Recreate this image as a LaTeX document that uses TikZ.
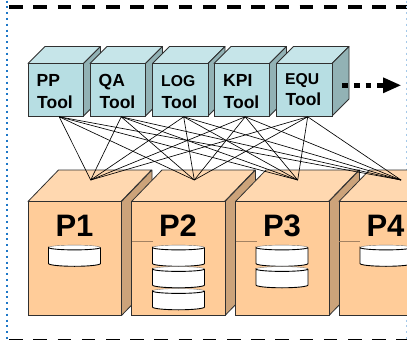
\documentclass[tikz,border=0pt]{standalone}
\usepackage{fontspec}
\setmainfont{Liberation Sans}
\definecolor{tf}{HTML}{B7DEE3}
\definecolor{tt}{HTML}{C6E5E9}
\definecolor{ts}{HTML}{92B2B5}
\definecolor{pf}{HTML}{FFCC99}
\definecolor{pt}{HTML}{FFD8B0}
\definecolor{ps}{HTML}{CCA37A}
\definecolor{edge}{HTML}{303030}
\definecolor{dotb}{HTML}{1F78C8}
\tikzset{
  facet/.style={draw=edge,line width=0.8pt,line join=round},
  wire/.style={draw=black,line width=0.65pt},
  tooltext/.style={font=\bfseries\fontsize{17.5}{18}\selectfont,anchor=base west,inner sep=0pt},
  smalltext/.style={font=\bfseries\fontsize{15.7}{18}\selectfont,anchor=base west,inner sep=0pt},
  ptext/.style={font=\bfseries\fontsize{31}{32}\selectfont,anchor=base,inner sep=0pt},
  disk/.style={draw=black,line width=0.9pt},
  diskrim/.style={draw=black!55,line width=0.4pt},
  hair/.style={draw=ps!80!black,line width=0.5pt}
}
\newcommand{\toolcube}[2]{% x, name
  \fill[tt,facet] (#1,63.5) -- ++(17,-17) -- ++(55.5,0) -- ++(-17,17) -- cycle;
  \fill[ts,facet] (#1+55.5,63.5) -- ++(17,-17) -- ++(0,52.5) -- ++(-17,17) -- cycle;
  \node[draw=edge,fill=tf,line width=0.8pt,minimum width=55.5pt,minimum height=52.5pt,anchor=north west,inner sep=0pt,outer sep=0pt] (#2) at (#1,63.5) {};
  \coordinate (#2w) at (#1+31.2,116.8);
}
\newcommand{\pcube}[3]{% x, name, label
  \fill[pt,facet] (#1,201.5) -- ++(30.5,-31.5) -- ++(93,0) -- ++(-30.5,31.5) -- cycle;
  \fill[ps,facet] (#1+93.5,201.5) -- ++(30.5,-31.5) -- ++(0,114) -- ++(-30.5,31.5) -- cycle;
  \node[draw=edge,fill=pf,line width=0.8pt,minimum width=93.5pt,minimum height=114pt,anchor=north west,inner sep=0pt,outer sep=0pt] (#2) at (#1,201.5) {};
  \node[ptext] (#2t) at (#1+46.5,236.5) {#3};
}
\newcommand{\dbdisk}[2]{% x, top y
  \fill[white] (#1,#2) arc[start angle=180,end angle=0,x radius=26pt,y radius=2.4pt] -- (#1+52,#2+16) arc[start angle=0,end angle=-180,x radius=26pt,y radius=2.8pt] -- cycle;
  \draw[diskrim] (#1,#2) arc[start angle=180,end angle=0,x radius=26pt,y radius=2.4pt];
  \draw[disk] (#1+52,#2) arc[start angle=0,end angle=-180,x radius=26pt,y radius=2.4pt] -- (#1,#2+16) arc[start angle=180,end angle=360,x radius=26pt,y radius=2.8pt] -- (#1+52,#2);
}
\begin{document}
\begin{tikzpicture}[x=1pt,y=-1pt]
\useasboundingbox (0,0) rectangle (407,340);
\clip (0,0) rectangle (407,340);
\fill[white] (0,0) rectangle (407,340);
% frame
\draw[black,line width=3.5pt,dash pattern=on 13.6pt off 10.6pt] (9.2,6.9) -- (407,6.9);
\draw[black,line width=3.5pt,dash pattern=on 13.6pt off 10.6pt] (9.2,340.8) -- (407,340.8);
\draw[dotb,line width=2.2pt,dash pattern=on 2pt off 3.8pt] (6.6,0.5) -- (6.6,340);
\draw[dotb!40,line width=1.2pt,dash pattern=on 2pt off 3.8pt] (406.5,0.5) -- (406.5,340);
% processors
\pcube{28}{p1}{P1}
\pcube{131.5}{p2}{P2}
\pcube{235.5}{p3}{P3}
\pcube{339}{p4}{P4}
\draw[hair] (131.5,241) -- (152.5,241);
\draw[hair] (235.5,241) -- (256.5,241);
\draw[hair] (339,241) -- (360,241);
\dbdisk{48.5}{247.5}
\dbdisk{152.5}{247.5}
\dbdisk{152.5}{269}
\dbdisk{152.5}{291}
\dbdisk{256}{247.5}
\dbdisk{256}{269}
\dbdisk{360}{247.5}
% tools
\toolcube{28}{pp}
\toolcube{90}{qa}
\toolcube{152.5}{log}
\toolcube{214}{kpi}
\toolcube{276.5}{equ}
\node[tooltext] (pp1) at (36.5,86) {PP};
\node[tooltext] (pp2) at (37,108) {Tool};
\node[tooltext] (qa1) at (98.5,86) {QA};
\node[tooltext] (qa2) at (99.5,108) {Tool};
\node[smalltext] (log1) at (161,86.5) {LOG};
\node[tooltext] (log2) at (161.5,108) {Tool};
\node[tooltext] (kpi1) at (223,86) {KPI};
\node[tooltext] (kpi2) at (223.5,108) {Tool};
\node[smalltext] (equ1) at (285,84.5) {EQU};
\node[tooltext] (equ2) at (285.5,105) {Tool};
% connectors
\coordinate (a1) at (90.7,180);
\coordinate (a2) at (194.3,180);
\coordinate (a3) at (297.7,180);
\coordinate (a4) at (401,180);
\foreach \t in {ppw,qaw,logw,kpiw,equw}
  \foreach \a in {a1,a2,a3,a4}
    \draw[wire] (\t) -- (\a);
% arrow
\coordinate (as) at (342.3,85.5);
\coordinate (ae) at (400.7,85.3);
\draw[black,line width=5.6pt,dash pattern=on 5.6pt off 6pt] (as) -- (384,85.5);
\fill[black] (ae) -- (383,77.3) -- (383,93.3) -- cycle;
\end{tikzpicture}
\end{document}
